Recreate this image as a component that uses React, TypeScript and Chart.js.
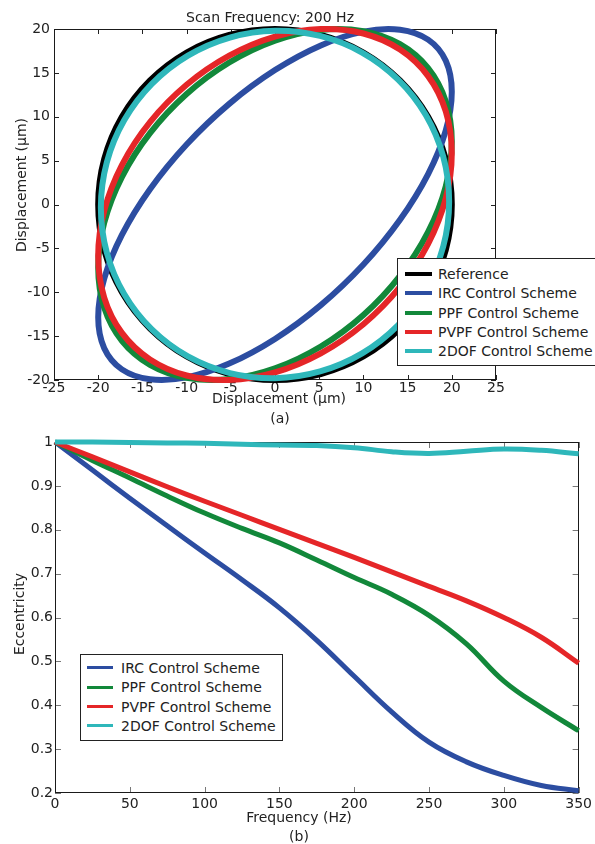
import React, { useEffect, useRef } from 'react';
import { Chart, registerables } from 'chart.js';

Chart.register(...registerables);

// ---------- (a) Scan Frequency 200 Hz : trajectories (μm) ----------
const refX = [0, 5.18, 10, 14.14, 17.32, 19.32, 20, 19.32, 17.32, 14.14, 10, 5.18, 0, -5.18, -10, -14.14, -17.32, -19.32, -20, -19.32, -17.32, -14.14, -10, -5.18];
const refY = [20, 19.32, 17.32, 14.14, 10, 5.18, 0, -5.18, -10, -14.14, -17.32, -19.32, -20, -19.32, -17.32, -14.14, -10, -5.18, 0, 5.18, 10, 14.14, 17.32, 19.32];

const ircX = [0, 5.18, 10, 14.14, 17.32, 19.32, 20, 19.32, 17.32, 14.14, 10, 5.18, 0, -5.18, -10, -14.14, -17.32, -19.32, -20, -19.32, -17.32, -14.14, -10, -5.18];
const ircY = [15.32, 18.13, 19.7, 19.92, 18.79, 16.38, 12.86, 8.45, 3.47, -1.74, -6.84, -11.47, -15.32, -18.13, -19.7, -19.92, -18.79, -16.38, -12.86, -8.45, -3.47, 1.74, 6.84, 11.47];

const ppfX = [0, 5.18, 10, 14.14, 17.32, 19.32, 20, 19.32, 17.32, 14.14, 10, 5.18, 0, -5.18, -10, -14.14, -17.32, -19.32, -20, -19.32, -17.32, -14.14, -10, -5.18];
const ppfY = [18.67, 19.89, 19.75, 18.27, 15.54, 11.76, 7.17, 2.09, -3.13, -8.13, -12.59, -16.18, -18.67, -19.89, -19.75, -18.27, -15.54, -11.76, -7.17, -2.09, 3.13, 8.13, 12.59, 16.18];

const pvpfX = [0, 5.18, 10, 14.14, 17.32, 19.32, 20, 19.32, 17.32, 14.14, 10, 5.18, 0, -5.18, -10, -14.14, -17.32, -19.32, -20, -19.32, -17.32, -14.14, -10, -5.18];
const pvpfY = [19.13, 19.99, 19.49, 17.66, 14.63, 10.6, 5.85, 0.7, -4.5, -9.39, -13.64, -16.96, -19.13, -19.99, -19.49, -17.66, -14.63, -10.6, -5.85, -0.7, 4.5, 9.39, 13.64, 16.96];

const dofX = [0, 5.1, 9.85, 13.93, 17.06, 19.03, 19.7, 19.03, 17.06, 13.93, 9.85, 5.1, 0, -5.1, -9.85, -13.93, -17.06, -19.03, -19.7, -19.03, -17.06, -13.93, -9.85, -5.1];
const dofY = [19.8, 19.21, 17.32, 14.24, 10.2, 5.46, 0.35, -4.79, -9.6, -13.75, -16.97, -19.03, -19.8, -19.21, -17.32, -14.24, -10.2, -5.46, -0.35, 4.79, 9.6, 13.75, 16.97, 19.03];

// ---------- (b) Eccentricity vs frequency ----------
const freqHz = [0, 25, 50, 75, 100, 125, 150, 175, 200, 225, 250, 275, 300, 325, 350];
const eccIRC = [1.0, 0.936, 0.872, 0.809, 0.747, 0.686, 0.622, 0.548, 0.466, 0.385, 0.316, 0.271, 0.24, 0.217, 0.205];
const eccPPF = [1.0, 0.958, 0.918, 0.877, 0.838, 0.803, 0.77, 0.731, 0.691, 0.653, 0.605, 0.54, 0.455, 0.395, 0.342];
const eccPVPF = [1.0, 0.966, 0.932, 0.898, 0.865, 0.833, 0.801, 0.769, 0.737, 0.704, 0.671, 0.638, 0.6, 0.555, 0.496];
const eccDOF = [1.0, 1.0, 0.999, 0.998, 0.997, 0.995, 0.993, 0.992, 0.987, 0.978, 0.974, 0.979, 0.984, 0.981, 0.973];

const topLegend = ['Reference', 'IRC Control Scheme', 'PPF Control Scheme', 'PVPF Control Scheme', '2DOF Control Scheme'];
const bottomLegend = ['IRC Control Scheme', 'PPF Control Scheme', 'PVPF Control Scheme', '2DOF Control Scheme'];

const C_REF = '#000000';
const C_IRC = '#2c4da1';
const C_PPF = '#12883a';
const C_PVPF = '#e52628';
const C_DOF = '#2eb7ba';

const FONT = '"DejaVu Sans", Verdana, sans-serif';
const TEXT = '#222222';
const FS = 14;

const pts = (xs: number[], ys: number[]) => xs.map((x, i) => ({ x, y: ys[i] }));

// Close each trajectory into a smooth loop
const closedLoops = {
  id: 'closedLoops',
  afterDatasetsUpdate(chart: any) {
    chart.getSortedVisibleDatasetMetas().forEach((meta: any) => {
      const line = meta.dataset;
      if (!line) return;
      line._loop = true;
      line._fullLoop = true;
      delete line._segments;
      delete line._path;
      line._pointsUpdated = false;
    });
  },
};

// Box frame with inward tick marks on all sides
const frameTicks = (len: number, tickColor: string) => ({
  id: 'frameTicks',
  beforeDatasetsDraw(chart: any) {
    const { ctx, chartArea: a, scales } = chart;
    ctx.save();
    ctx.lineWidth = 1;
    ctx.strokeStyle = tickColor;
    ctx.beginPath();
    for (const t of scales.x.ticks) {
      const px = Math.round(scales.x.getPixelForValue(t.value)) + 0.5;
      ctx.moveTo(px, a.bottom);
      ctx.lineTo(px, a.bottom - len);
      ctx.moveTo(px, a.top);
      ctx.lineTo(px, a.top + len);
    }
    for (const t of scales.y.ticks) {
      const py = Math.round(scales.y.getPixelForValue(t.value)) + 0.5;
      ctx.moveTo(a.left, py);
      ctx.lineTo(a.left + len, py);
      ctx.moveTo(a.right, py);
      ctx.lineTo(a.right - len, py);
    }
    ctx.stroke();
    ctx.strokeStyle = '#1a1a1a';
    ctx.strokeRect(Math.round(a.left) + 0.5, Math.round(a.top) + 0.5, Math.round(a.right - a.left) - 1, Math.round(a.bottom - a.top) - 1);
    ctx.restore();
  },
});

const tickFont = { family: FONT, size: FS };

function TopChart() {
  const ref = useRef<HTMLCanvasElement>(null);
  useEffect(() => {
    if (!ref.current) return;
    const mk = (label: string, xs: number[], ys: number[], color: string, order: number) => ({
      label, data: pts(xs, ys), borderColor: color, backgroundColor: color, order, clip: false,
    });
    const chart = new Chart(ref.current, {
      type: 'line',
      data: {
        datasets: [
          mk(topLegend[0], refX, refY, C_REF, 5),
          mk(topLegend[1], ircX, ircY, C_IRC, 4),
          mk(topLegend[2], ppfX, ppfY, C_PPF, 3),
          mk(topLegend[3], pvpfX, pvpfY, C_PVPF, 2),
          mk(topLegend[4], dofX, dofY, C_DOF, 1),
        ] as any,
      },
      options: {
        animation: false,
        responsive: false,
        devicePixelRatio: 1,
        layout: { padding: { left: 0, right: 99, top: 29, bottom: 0 } },
        elements: {
          point: { radius: 0, hoverRadius: 0 },
          line: { tension: 0.34, borderWidth: 6, capBezierPoints: false, fill: false },
        },
        plugins: { legend: { display: false }, title: { display: false }, tooltip: { enabled: false } },
        scales: {
          x: {
            type: 'linear', min: -25, max: 25,
            grid: { display: false, drawTicks: false }, border: { display: false },
            ticks: { stepSize: 5, padding: 0, font: tickFont, color: TEXT, maxRotation: 0, autoSkip: false, callback: (v: any) => String(v) },
            afterFit: (s: any) => { s.height = 45; },
          },
          y: {
            type: 'linear', min: -20, max: 20,
            grid: { display: false, drawTicks: false }, border: { display: false },
            ticks: { stepSize: 5, padding: 4, font: tickFont, color: TEXT, autoSkip: false, callback: (v: any) => String(v) },
            afterFit: (s: any) => { s.width = 54; },
          },
        },
      } as any,
      plugins: [closedLoops, frameTicks(5, '#222222')],
    });
    return () => chart.destroy();
  }, []);
  return <canvas ref={ref} width={595} height={425} style={{ position: 'absolute', left: 0, top: 0, display: 'block' }} />;
}

function BottomChart() {
  const ref = useRef<HTMLCanvasElement>(null);
  useEffect(() => {
    if (!ref.current) return;
    const mk = (label: string, ys: number[], color: string, order: number) => ({
      label, data: pts(freqHz, ys), borderColor: color, backgroundColor: color, order, clip: false,
    });
    const chart = new Chart(ref.current, {
      type: 'line',
      data: {
        datasets: [
          mk(bottomLegend[0], eccIRC, C_IRC, 4),
          mk(bottomLegend[1], eccPPF, C_PPF, 3),
          mk(bottomLegend[2], eccPVPF, C_PVPF, 2),
          mk(bottomLegend[3], eccDOF, C_DOF, 1),
        ] as any,
      },
      options: {
        animation: false,
        responsive: false,
        devicePixelRatio: 1,
        layout: { padding: { left: 0, right: 14, top: 17, bottom: 0 } },
        elements: {
          point: { radius: 0, hoverRadius: 0 },
          line: { tension: 0.4, borderWidth: 5, capBezierPoints: false, fill: false },
        },
        plugins: { legend: { display: false }, title: { display: false }, tooltip: { enabled: false } },
        scales: {
          x: {
            type: 'linear', min: 0, max: 350,
            grid: { display: false, drawTicks: false }, border: { display: false },
            ticks: { stepSize: 50, padding: 3, font: tickFont, color: TEXT, maxRotation: 0, autoSkip: false, callback: (v: any) => String(v) },
            afterFit: (s: any) => { s.height = 51; },
          },
          y: {
            type: 'linear', min: 0.2, max: 1,
            grid: { display: false, drawTicks: false }, border: { display: false },
            ticks: { stepSize: 0.1, padding: 2, font: tickFont, color: TEXT, autoSkip: false, callback: (v: any) => String(Math.round(v * 10) / 10) },
            afterFit: (s: any) => { s.width = 55; },
          },
        },
      } as any,
      plugins: [frameTicks(6, '#777777')],
    });
    return () => chart.destroy();
  }, []);
  return <canvas ref={ref} width={595} height={419} style={{ position: 'absolute', left: 0, top: 425, display: 'block' }} />;
}

const baseText: React.CSSProperties = {
  position: 'absolute', fontFamily: FONT, fontSize: FS, lineHeight: '16px', color: TEXT, whiteSpace: 'nowrap',
};

function Label({ x, y, text, rotate }: { x: number; y: number; text: string; rotate?: boolean }) {
  return (
    <div style={{ ...baseText, left: x, top: y, transform: `translate(-50%, -50%)${rotate ? ' rotate(-90deg)' : ''}` }}>
      {text}
    </div>
  );
}

function Legend({ left, top, width, height, first, step, sx, sw, sh, tx, items, colors }: {
  left: number; top: number; width: number; height: number; first: number; step: number;
  sx: number; sw: number; sh: number; tx: number; items: string[]; colors: string[];
}) {
  return (
    <div style={{ position: 'absolute', left, top, width, height, border: '1px solid #222', background: '#fff', boxSizing: 'border-box' }}>
      {items.map((t, i) => {
        const cy = first + i * step;
        return (
          <React.Fragment key={t}>
            <div style={{ position: 'absolute', left: sx, top: cy - sh / 2, width: sw, height: sh, background: colors[i] }} />
            <div style={{ ...baseText, left: tx, top: cy - 8 }}>{t}</div>
          </React.Fragment>
        );
      })}
    </div>
  );
}

export default function App() {
  return (
    <div style={{ position: 'absolute', left: 0, top: 0, width: 595, height: 844, overflow: 'hidden', background: '#fff' }}>
      <TopChart />
      <BottomChart />
      <Label x={270} y={17} text="Scan Frequency: 200 Hz" />
      <Label x={279} y={398} text="Displacement (μm)" />
      <Label x={280} y={418} text="(a)" />
      <Label x={21} y={185} text="Displacement (μm)" rotate />
      <Legend left={397} top={258} width={210} height={108} first={15.3} step={19.1} sx={7} sw={27} sh={4} tx={40}
        items={topLegend} colors={[C_REF, C_IRC, C_PPF, C_PVPF, C_DOF]} />
      <Label x={19} y={614} text="Eccentricity" rotate />
      <Label x={299} y={817} text="Frequency (Hz)" />
      <Label x={299} y={836} text="(b)" />
      <Legend left={80} top={654} width={203} height={87} first={12.7} step={19.4} sx={6} sw={26} sh={3} tx={40}
        items={bottomLegend} colors={[C_IRC, C_PPF, C_PVPF, C_DOF]} />
    </div>
  );
}
